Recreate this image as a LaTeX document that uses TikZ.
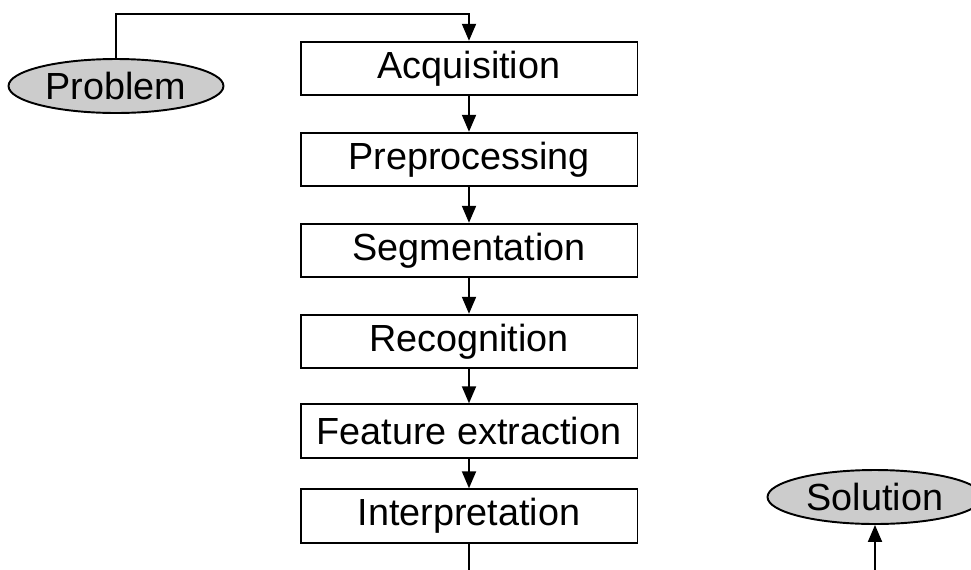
\documentclass[tikz,border=0pt]{standalone}
\usepackage{fontspec}
\setmainfont{Liberation Sans}
\usetikzlibrary{arrows.meta,shapes.geometric}
\tikzset{
  stage/.style={draw,line width=1.1pt,minimum width=6.74cm,minimum height=1.07cm,inner sep=0pt,
    font=\fontsize{21.5}{26}\selectfont},
  goal/.style={ellipse,draw,fill=gray!40,line width=1.1pt,minimum width=4.3cm,minimum height=1.08cm,
    inner sep=0pt,font=\fontsize{21.5}{26}\selectfont},
}

\begin{document}
\begin{tikzpicture}[x=0.02cm,y=-0.02cm,line width=1.1pt,>={Triangle[length=0.34cm,width=0.28cm]}]
  \useasboundingbox (0,0) rectangle (971,569);
  \clip (0,0) rectangle (971,569);
  \node[goal] (prob) at (116,86) {Problem};
  \node[stage] (acq) at (469,68.5) {Acquisition};
  \node[stage] (pre) at (469,159.5) {Preprocessing};
  \node[stage] (seg) at (469,250.5) {Segmentation};
  \node[stage] (rec) at (469,341.5) {Recognition};
  \node[stage] (feat) at (469,431) {Feature extraction};
  \node[stage] (interp) at (469,516) {Interpretation};
  \node[goal] (sol) at (875,497) {Solution};
  \coordinate (top) at (116,14);
  \coordinate (bot) at (469,600);
  \draw[->] (prob.north) |- (top) -| (acq.north);
  \draw[->] (acq.south) to (pre.north);
  \draw[->] (pre.south) to (seg.north);
  \draw[->] (seg.south) to (rec.north);
  \draw[->] (rec.south) to (feat.north);
  \draw[->] (feat.south) to (interp.north);
  \draw[->] (interp.south) |- (bot) -| (sol.south);
\end{tikzpicture}
\end{document}
